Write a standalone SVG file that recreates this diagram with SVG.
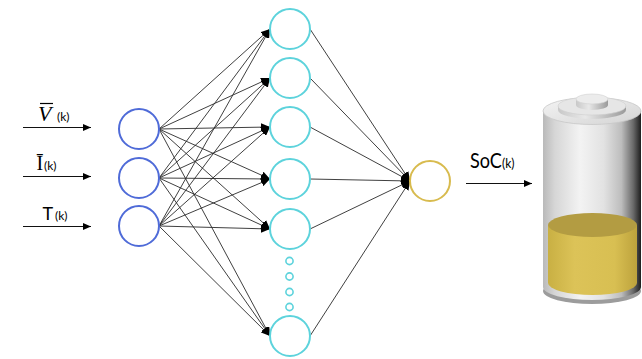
<svg xmlns="http://www.w3.org/2000/svg" width="642" height="359" viewBox="0 0 642 359">
  <style>
    .in { fill: none; stroke: #4f6bd8; stroke-width: 2; }
    .hid { fill: none; stroke: #5dd3dc; stroke-width: 2; }
    .out { fill: none; stroke: #d8bb4e; stroke-width: 2; }
    .dot { fill: none; stroke: #5dd3dc; stroke-width: 1.6; }
    .edge { stroke: #2a2a2a; stroke-width: 0.9; fill: none; }
    .arr { stroke: #111; stroke-width: 1; fill: none; }
    .lbl { font-family: Lato, "Liberation Sans", sans-serif; fill: #000; }
    .sym { font-family: "Liberation Serif", "DejaVu Serif", serif; fill: #000; }
  </style>
  <defs>
    <marker id="tip" markerUnits="userSpaceOnUse" markerWidth="10" markerHeight="8" refX="9" refY="4" orient="auto">
      <path d="M0,0 L9,4 L0,8 Z" fill="#000"/>
    </marker>
    <marker id="tipS" markerUnits="userSpaceOnUse" markerWidth="9" markerHeight="8" refX="8" refY="3.5" orient="auto">
      <path d="M0,0 L8,3.5 L0,7 Z" fill="#000"/>
    </marker>
    <linearGradient id="glass" x1="0" y1="0" x2="1" y2="0">
      <stop offset="0" stop-color="#b9b9b9"/>
      <stop offset="0.12" stop-color="#d6d6d6"/>
      <stop offset="0.38" stop-color="#f3f3f3"/>
      <stop offset="0.62" stop-color="#e2e2e2"/>
      <stop offset="0.8" stop-color="#bdbdbd"/>
      <stop offset="0.92" stop-color="#6a6a6a"/>
      <stop offset="1" stop-color="#1e1e1e"/>
    </linearGradient>
    <linearGradient id="topface" x1="0" y1="0" x2="1" y2="1">
      <stop offset="0" stop-color="#f4f4f4"/>
      <stop offset="1" stop-color="#d4d4d4"/>
    </linearGradient>
    <linearGradient id="capside" x1="0" y1="0" x2="1" y2="0">
      <stop offset="0" stop-color="#c8c8c8"/>
      <stop offset="0.4" stop-color="#e8e8e8"/>
      <stop offset="1" stop-color="#9a9a9a"/>
    </linearGradient>
    <linearGradient id="liquid" x1="0" y1="0" x2="1" y2="0">
      <stop offset="0" stop-color="#c9b043"/>
      <stop offset="0.3" stop-color="#dcc358"/>
      <stop offset="0.75" stop-color="#d8bf52"/>
      <stop offset="1" stop-color="#bda23c"/>
    </linearGradient>
  </defs>

  <!-- input labels and arrows -->
  <g id="input-labels">
    <text class="sym" x="38" y="121" font-size="22" font-style="italic">V</text>
    <line x1="40" y1="103.5" x2="53" y2="103.5" stroke="#000" stroke-width="1.2"/>
    <text class="lbl" x="57" y="121" font-size="12">(k)</text>
    <line class="arr" x1="23" y1="127.5" x2="91" y2="127.5" marker-end="url(#tipS)"/>

    <text class="sym" x="36.5" y="170" font-size="20">Ī</text>
    <text class="lbl" x="44" y="170" font-size="12">(k)</text>
    <line class="arr" x1="23" y1="176.5" x2="91" y2="176.5" marker-end="url(#tipS)"/>

    <text class="lbl" x="42.5" y="220" font-size="18">T</text>
    <text class="lbl" x="55" y="220" font-size="12">(k)</text>
    <line class="arr" x1="23" y1="226.5" x2="91" y2="226.5" marker-end="url(#tipS)"/>
  </g>

  <!-- weighted connections -->
  <g id="connectors">
    <!-- input layer to hidden layer -->
    <g class="edge" marker-end="url(#tip)">
      <line x1="159" y1="129" x2="270" y2="29"/>
      <line x1="159" y1="129" x2="270" y2="78"/>
      <line x1="159" y1="129" x2="270" y2="127"/>
      <line x1="159" y1="129" x2="270" y2="179"/>
      <line x1="159" y1="129" x2="270" y2="229"/>
      <line x1="159" y1="129" x2="270" y2="336"/>
      <line x1="159" y1="178" x2="270" y2="29"/>
      <line x1="159" y1="178" x2="270" y2="78"/>
      <line x1="159" y1="178" x2="270" y2="127"/>
      <line x1="159" y1="178" x2="270" y2="179"/>
      <line x1="159" y1="178" x2="270" y2="229"/>
      <line x1="159" y1="178" x2="270" y2="336"/>
      <line x1="159" y1="226" x2="270" y2="29"/>
      <line x1="159" y1="226" x2="270" y2="78"/>
      <line x1="159" y1="226" x2="270" y2="127"/>
      <line x1="159" y1="226" x2="270" y2="179"/>
      <line x1="159" y1="226" x2="270" y2="229"/>
      <line x1="159" y1="226" x2="270" y2="336"/>
    </g>
    <!-- hidden layer to output -->
    <g class="edge" marker-end="url(#tip)">
      <line x1="310" y1="29" x2="410" y2="181"/>
      <line x1="310" y1="78" x2="410" y2="181"/>
      <line x1="310" y1="127" x2="410" y2="181"/>
      <line x1="310" y1="179" x2="410" y2="181"/>
      <line x1="310" y1="229" x2="410" y2="181"/>
      <line x1="310" y1="336" x2="410" y2="181"/>
    </g>
  </g>

  <!-- input layer -->
  <g id="in-1"><circle class="in" cx="139" cy="129" r="20"/></g>
  <g id="in-2"><circle class="in" cx="139" cy="178" r="20"/></g>
  <g id="in-3"><circle class="in" cx="139" cy="226" r="20"/></g>

  <!-- hidden layer -->
  <g id="hid-1"><circle class="hid" cx="290" cy="29" r="20"/></g>
  <g id="hid-2"><circle class="hid" cx="290" cy="78" r="20"/></g>
  <g id="hid-3"><circle class="hid" cx="290" cy="127" r="20"/></g>
  <g id="hid-4"><circle class="hid" cx="290" cy="179" r="20"/></g>
  <g id="hid-5"><circle class="hid" cx="290" cy="229" r="20"/></g>
  <g id="hid-ellipsis">
    <circle class="dot" cx="289.5" cy="261" r="3.6"/>
    <circle class="dot" cx="289.5" cy="276.5" r="3.6"/>
    <circle class="dot" cx="289.5" cy="292" r="3.6"/>
    <circle class="dot" cx="289.5" cy="307" r="3.6"/>
  </g>
  <g id="hid-n"><circle class="hid" cx="290" cy="336" r="20"/></g>

  <!-- output neuron -->
  <g id="out"><circle class="out" cx="430" cy="181" r="20"/></g>

  <!-- output label and arrow -->
  <g id="soc-label">
    <text class="lbl" transform="translate(470,168) scale(0.86,1)" font-size="21">SoC<tspan font-size="14">(k)</tspan></text>
    <line class="arr" x1="466" y1="183.5" x2="532" y2="183.5" marker-end="url(#tipS)"/>
  </g>

  <!-- battery -->
  <g id="battery">
    <!-- shadow under the can -->
    <ellipse cx="592" cy="291" rx="49" ry="13" fill="#4a4a4a" opacity="0.55"/>
    <!-- cylindrical body -->
    <path d="M543,111 L543,287 A49,13 0 0 0 641,287 L641,111 Z" fill="url(#glass)"/>
    <!-- liquid -->
    <path d="M548,225 L548,283 A44.5,12 0 0 0 637,283 L637,225 Z" fill="url(#liquid)"/>
    <ellipse cx="592.5" cy="225" rx="44.5" ry="12" fill="#b39c42"/>
    <!-- top face -->
    <ellipse cx="592" cy="111" rx="49" ry="13.5" fill="url(#topface)"/>
    <ellipse cx="592" cy="111" rx="49" ry="13.5" fill="none" stroke="#c8c8c8" stroke-width="0.8"/>
    <!-- terminal ring -->
    <path d="M558,106 L558,110 A34,9 0 0 0 626,110 L626,106 Z" fill="url(#capside)"/>
    <ellipse cx="592" cy="106" rx="34" ry="9" fill="#e6e6e6" stroke="#cfcfcf" stroke-width="0.6"/>
    <!-- terminal cap -->
    <path d="M576,99 L576,105 A16,5 0 0 0 608,105 L608,99 Z" fill="url(#capside)"/>
    <ellipse cx="592" cy="99" rx="16" ry="5" fill="#ececec" stroke="#d2d2d2" stroke-width="0.6"/>
  </g>
</svg>
